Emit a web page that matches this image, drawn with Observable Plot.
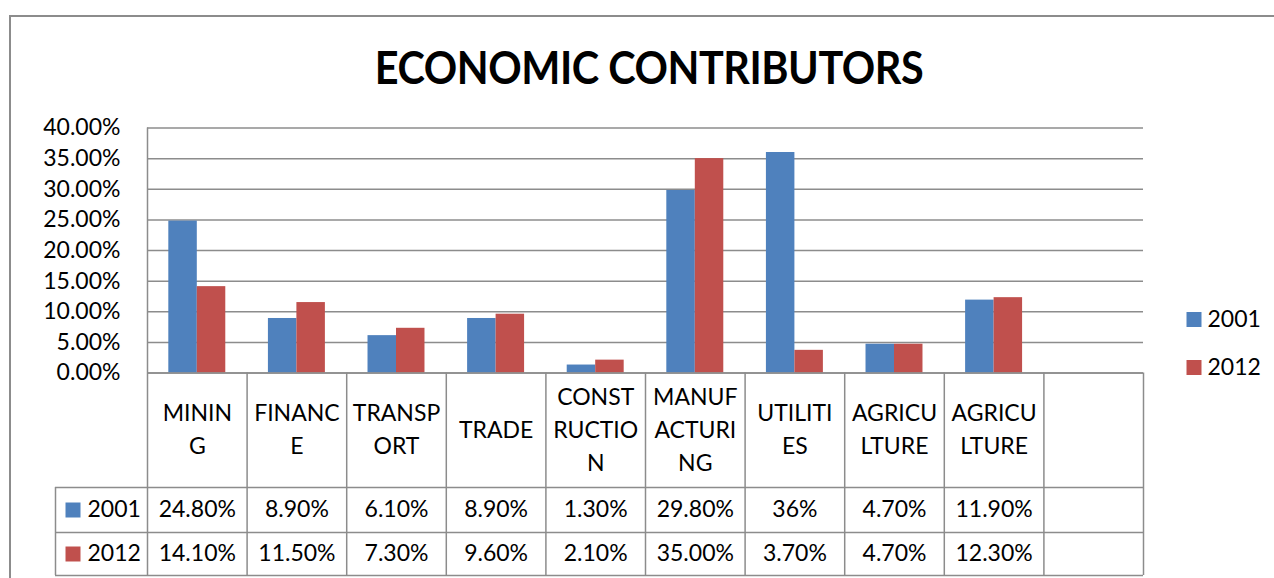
<!DOCTYPE html>
<html>
<head>
<meta charset="utf-8">
<script src="https://cdn.jsdelivr.net/npm/d3@7"></script>
<script src="https://cdn.jsdelivr.net/npm/@observablehq/plot@0.6"></script>
<style>
  html, body { margin: 0; padding: 0; background: #fff; }
  #wrap { position: relative; width: 1274px; height: 578px; overflow: hidden; font-family: Lato, "Open Sans", sans-serif; }
  #frame { position: absolute; left: 9px; top: 15px; width: 1400px; height: 700px;
           border-left: 2px solid #8c8c8c; border-top: 2px solid #8c8c8c; box-sizing: border-box; }
  #title { position: absolute; left: 0; top: 39px; width: 1298px; text-align: center;
           font: bold 45px Lato, sans-serif; line-height: 56px; color: #000; letter-spacing: -0.5px;
           transform: scaleX(0.92); transform-origin: 649px 50%; }
  #chart { position: absolute; left: 0; top: 110px; }
</style>
</head>
<body>
<div id="wrap">
  <div id="frame"></div>
  <div id="title">ECONOMIC CONTRIBUTORS</div>
  <div id="chart"></div>
</div>
<script>
// ---- data ----
const categories = ["MINING", "FINANCE", "TRANSPORT", "TRADE", "CONSTRUCTION", "MANUFACTURING", "UTILITIES", "AGRICULTURE", "AGRICULTURE", ""];
const categoryLabels = ["MININ\nG", "FINANC\nE", "TRANSP\nORT", "TRADE", "CONST\nRUCTIO\nN", "MANUF\nACTURI\nNG", "UTILITI\nES", "AGRICU\nLTURE", "AGRICU\nLTURE", ""];
const series = ["2001", "2012"];
const values2001 = [0.248, 0.089, 0.061, 0.089, 0.013, 0.298, 0.36, 0.047, 0.119];
const values2012 = [0.141, 0.115, 0.073, 0.096, 0.021, 0.35, 0.037, 0.047, 0.123];
const labels2001 = ["24.80%", "8.90%", "6.10%", "8.90%", "1.30%", "29.80%", "36%", "4.70%", "11.90%"];
const labels2012 = ["14.10%", "11.50%", "7.30%", "9.60%", "2.10%", "35.00%", "3.70%", "4.70%", "12.30%"];
const yTicks = [0, 0.05, 0.10, 0.15, 0.20, 0.25, 0.30, 0.35, 0.40];
const colors = ["#4F81BD", "#C0504D"];

// ---- layout ----
const W = 1274, H = 468;
const mL = 147, mR = 131, mT = 17.5, mB = 205.5;
const slots = d3.range(categories.length);
const bw = (W - mL - mR) / slots.length;
const group = bw * 0.572;
const outer = (bw - group) / 2;
const half = group / 2;
const frameH = H - mT - mB;
const grid = "#8c8c8c";
const fs = 23;
const rowHeader = 114.5, row1 = 159.5, row2 = 202.5; // table row bottoms below baseline
const legendColLeft = 92; // width of legend column in the table

const rows = [];
values2001.forEach((v, i) => rows.push({slot: i, series: "2001", value: v}));
values2012.forEach((v, i) => rows.push({slot: i, series: "2012", value: v}));

const tableLabels = [labels2001, labels2012];
const valueRowCenters = [(rowHeader + row1) / 2, (row1 + row2) / 2];

const marks = [
  Plot.gridY(yTicks, {stroke: grid, strokeOpacity: 1, strokeWidth: 1.5}),
  Plot.axisY(yTicks, {tickFormat: d3.format(".2%"), tickSize: 0, tickPadding: 27, fontSize: fs, fill: "#000", label: null}),
  // bars
  Plot.barY(rows.filter(d => d.series === "2001"), {x: "slot", y: "value", fill: colors[0], insetLeft: outer, insetRight: bw - outer - half}),
  Plot.barY(rows.filter(d => d.series === "2012"), {x: "slot", y: "value", fill: colors[1], insetLeft: outer + half, insetRight: outer}),
  // baseline and table horizontal lines
  Plot.ruleY([0], {stroke: grid, strokeWidth: 1.5}),
  Plot.ruleY([0], {stroke: grid, strokeWidth: 1.5, dy: rowHeader, insetLeft: -legendColLeft}),
  Plot.ruleY([0], {stroke: grid, strokeWidth: 1.5, dy: row1, insetLeft: -legendColLeft}),
  Plot.ruleY([0], {stroke: grid, strokeWidth: 1.5, dy: row2, insetLeft: -legendColLeft}),
  // y axis line (extends through the table)
  Plot.ruleX([0], {x: d => d, stroke: grid, strokeWidth: 1.5, dx: -bw / 2, insetBottom: -row2}),
  // table vertical lines
  Plot.ruleX(slots.slice(1), {x: d => d, stroke: grid, strokeWidth: 1.5, dx: -bw / 2, insetTop: frameH, insetBottom: -row2}),
  Plot.ruleX([slots[slots.length - 1]], {x: d => d, stroke: grid, strokeWidth: 1.5, dx: bw / 2, insetTop: frameH, insetBottom: -row2}),
  Plot.ruleX([0], {x: d => d, stroke: grid, strokeWidth: 1.5, dx: -bw / 2 - legendColLeft, insetTop: frameH + rowHeader, insetBottom: -row2}),
  // category labels
  Plot.text(slots, {x: d => d, text: d => categoryLabels[d], frameAnchor: "bottom", dy: rowHeader / 2 - 3, lineAnchor: "middle", lineHeight: 33 / fs, fontSize: fs, fill: "#000"}),
];

series.forEach((s, k) => {
  marks.push(
    Plot.text(tableLabels[k].map((t, i) => ({slot: i, t})), {x: "slot", text: "t", frameAnchor: "bottom", dy: valueRowCenters[k], lineAnchor: "middle", fontSize: fs, fill: "#000"}),
    // table legend keys
    Plot.dot([s], {frameAnchor: "bottom-left", dx: -74.5, dy: valueRowCenters[k], symbol: "square", r: Math.sqrt(225 / Math.PI), fill: colors[k], stroke: "none"}),
    Plot.text([s], {text: d => d, frameAnchor: "bottom-left", dx: -60, dy: valueRowCenters[k], textAnchor: "start", lineAnchor: "middle", fontSize: fs, fill: "#000"}),
    // right legend
    Plot.dot([s], {frameAnchor: "top-right", dx: 50.5, dy: 191.5 + k * 48, symbol: "square", r: Math.sqrt(225 / Math.PI), fill: colors[k], stroke: "none"}),
    Plot.text([s], {text: d => d, frameAnchor: "top-right", dx: 64, dy: 191.5 + k * 48, textAnchor: "start", lineAnchor: "middle", fontSize: fs, fill: "#000"})
  );
});

const chart = Plot.plot({
  width: W,
  height: H,
  marginLeft: mL,
  marginRight: mR,
  marginTop: mT,
  marginBottom: mB,
  style: {fontFamily: "Lato, 'Open Sans', sans-serif", fontSize: fs + "px", color: "#000", background: "transparent", overflow: "visible"},
  x: {type: "band", domain: slots, padding: 0, round: false, axis: null},
  y: {domain: [0, 0.4], axis: null},
  marks
});
document.getElementById("chart").appendChild(chart);
</script>
</body>
</html>
